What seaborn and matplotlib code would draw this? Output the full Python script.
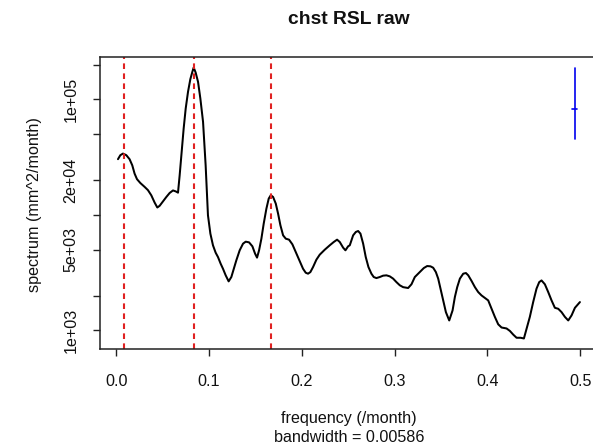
import numpy as np
import pandas as pd
import matplotlib
matplotlib.use("Agg")
import matplotlib.pyplot as plt
import seaborn as sns

# Smoothed periodogram of the chst relative sea level series
freq = [0.0018, 0.0043, 0.0072, 0.0108, 0.0143, 0.0172, 0.0197, 0.0223, 0.0259, 0.0305,
        0.0341, 0.0377, 0.0413, 0.0442, 0.0467, 0.0503, 0.0539, 0.0575, 0.0611, 0.0640,
        0.0665, 0.0683, 0.0701, 0.0726, 0.0748, 0.0773, 0.0798, 0.0820, 0.0834, 0.0855,
        0.0881, 0.0906, 0.0935, 0.0963, 0.0988, 0.1014, 0.1042, 0.1071, 0.1096, 0.1125,
        0.1150, 0.1179, 0.1211, 0.1240,
        0.1294, 0.1330, 0.1366, 0.1395, 0.1431, 0.1467, 0.1496, 0.1517, 0.1539, 0.1564,
        0.1589, 0.1618, 0.1643, 0.1665, 0.1690, 0.1719, 0.1744, 0.1769, 0.1798, 0.1827,
        0.1862, 0.1898, 0.1934, 0.1977, 0.2013, 0.2042, 0.2067, 0.2092, 0.2121, 0.2157,
        0.2193, 0.2247, 0.2301, 0.2344, 0.2380, 0.2409, 0.2445, 0.2470, 0.2499,
        0.2517, 0.2553, 0.2582, 0.2607, 0.2632, 0.2661, 0.2689, 0.2718, 0.2750, 0.2775,
        0.2804, 0.2840, 0.2876, 0.2912, 0.2948, 0.2984, 0.3020, 0.3056, 0.3092, 0.3146,
        0.3182, 0.3218, 0.3272, 0.3315, 0.3351, 0.3387, 0.3416, 0.3445, 0.3470, 0.3495,
        0.3524, 0.3553, 0.3589, 0.3625, 0.3650, 0.3675, 0.3704, 0.3740, 0.3769, 0.3794,
        0.3830, 0.3866, 0.3901,
        0.3937, 0.4009, 0.4045, 0.4081, 0.4117, 0.4153, 0.4207, 0.4243, 0.4279, 0.4315,
        0.4358, 0.4394, 0.4422, 0.4458, 0.4494, 0.4530, 0.4559, 0.4584, 0.4620, 0.4656,
        0.4692, 0.4728, 0.4764, 0.4800, 0.4836, 0.4872, 0.4908, 0.4944, 0.4998]
spec = [30400, 32900, 34000, 32900, 30400, 26900, 22800, 20400, 18900, 17500,
        16400, 14800, 12800, 11600, 12000, 13100, 14300, 15500, 16300, 16000,
        15600, 22100, 32900, 56000, 83500, 116500, 149900, 173600, 189000, 171300,
        142100, 101900, 64000, 26900, 9930, 6890, 5460, 4710, 4320, 3780,
        3420, 3000, 2660, 2900,
        4050, 4940, 5640, 5870, 5790, 5350, 4620, 4270, 4940, 6230,
        8410, 11340, 13850, 14810, 14320, 12540, 10260, 8140, 6660, 6230,
        6110, 5570, 4780, 3990, 3420, 3160, 3100, 3200, 3540, 4100,
        4530, 5000, 5460, 5830, 6110, 5830, 5210, 4940, 5350,
        5460, 6660, 7120, 7260, 6890, 5640, 4320, 3540, 3100, 2900,
        2840, 2900, 2980, 3000, 2940, 2810, 2620, 2460, 2370, 2330,
        2510, 2900, 3200, 3470, 3610, 3590, 3490, 3200, 2810, 2300,
        1820, 1440, 1220, 1490, 1950, 2370, 2810, 3100, 3140, 3000,
        2680, 2370, 2150,
        2010, 1820, 1540, 1310, 1130, 1060, 1040, 990, 920, 864,
        864, 852, 1030, 1310, 1760, 2300, 2620, 2710, 2510, 2150,
        1820, 1570, 1540, 1440, 1310, 1220, 1350, 1570, 1760]

# Reference frequencies: decadal, annual and semi-annual cycles
ref_freqs = [1 / 120, 1 / 12, 1 / 6]

# Confidence interval bar
bandwidth = 0.00586
ci_upper = 189000
ci_mid = 82500
ci_lower = 45400

y_ticks = [1000, 2000, 5000, 10000, 20000, 50000, 100000, 200000]
y_tick_labels = ["1e+03", "", "5e+03", "", "2e+04", "", "1e+05", ""]
x_ticks = [0.0, 0.1, 0.2, 0.3, 0.4, 0.5]
x_tick_labels = ["0.0", "0.1", "0.2", "0.3", "0.4", "0.5"]

sns.set_style("ticks")
plt.rcParams["font.family"] = ["Liberation Sans", "DejaVu Sans"]

W, H = 593, 446
fig = plt.figure(figsize=(W / 100, H / 100), dpi=100)
# axes box in pixels: left 99.5, right 598.6 (runs off the canvas), top 56.7, bottom 349.3
ax = fig.add_axes([99.5 / W, (H - 349.3) / H, (598.6 - 99.5) / W, (349.3 - 56.7) / H])

df = pd.DataFrame({"frequency": freq, "spectrum": spec})
sns.lineplot(data=df, x="frequency", y="spectrum", sort=False, ax=ax,
             color="black", linewidth=1.45, estimator=None)
ax.set_yscale("log")

for f in ref_freqs:
    ax.axvline(f, color="#E02222", linewidth=1.5, linestyle=(0, (2.7, 2.1)))

ci_x = 0.5 - bandwidth
ax.plot([ci_x, ci_x], [ci_lower, ci_upper], color="#0000EE", linewidth=1.2)
ax.plot([ci_x - bandwidth / 2, ci_x + bandwidth / 2], [ci_mid, ci_mid],
        color="#0000EE", linewidth=1.2)

# R-style 4% padding around the data range
fmin, fmax = min(freq), 0.5
ext = 0.04 * (fmax - fmin)
ax.set_xlim(fmin - ext, fmax + ext)
lmin, lmax = np.log10(min(spec)), np.log10(max(spec))
lext = 0.04 * (lmax - lmin)
ax.set_ylim(10 ** (lmin - lext), 10 ** (lmax + lext))

ax.set_xticks(x_ticks)
ax.set_xticklabels(x_tick_labels)
ax.set_yticks(y_ticks)
ax.set_yticklabels(y_tick_labels, rotation=90, va="center")
ax.minorticks_off()
ax.tick_params(axis="both", direction="out", length=5, width=1.0, color="#222222",
               labelsize=11.6, labelcolor="#111111")
ax.tick_params(axis="x", pad=13)
ax.tick_params(axis="y", pad=10)
for s in ax.spines.values():
    s.set_visible(True)
    s.set_linewidth(1.1)
    s.set_color("#222222")
ax.set_xlabel("")
ax.set_ylabel("")

fig.text(349 / W, (H - 24) / H, "chst RSL raw", ha="center", va="baseline",
         fontsize=13.9, fontweight="bold", color="#111111")
fig.text(349 / W, (H - 423.5) / H, "frequency (/month)", ha="center", va="baseline",
         fontsize=11.6, color="#111111")
fig.text(349 / W, (H - 442) / H, "bandwidth = 0.00586", ha="center", va="baseline",
         fontsize=11.6, color="#111111")
fig.text(35 / W, (H - 205) / H, "spectrum (mm^2/month)", ha="center", va="center",
         rotation=90, fontsize=11.6, color="#111111")

fig.savefig("out.png", dpi=100)
